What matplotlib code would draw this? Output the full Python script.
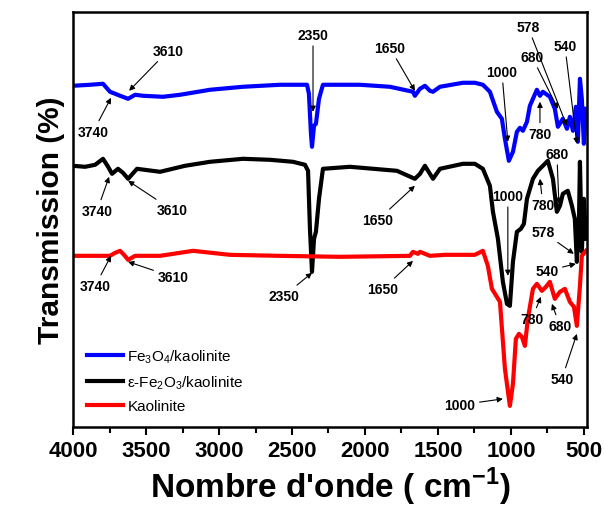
"""FTIR spectra of kaolinite and the two iron-oxide/kaolinite composites."""

import matplotlib

matplotlib.use("Agg")

import matplotlib.pyplot as plt

plt.rcParams["font.family"] = ["Liberation Sans", "DejaVu Sans"]
plt.rcParams["mathtext.fontset"] = "custom"
plt.rcParams["mathtext.rm"] = "Liberation Sans"
plt.rcParams["mathtext.bf"] = "Liberation Sans:bold"

# wavenumber (cm-1) and transmission (arb. units, offset stack)
wn_fe3o4 = [4000, 3884, 3795, 3747, 3712, 3678, 3623, 3575, 3521, 3384, 3267, 3062,
            2836, 2582, 2397, 2384, 2370, 2363, 2349, 2336, 2315, 2288, 2034, 1829,
            1671, 1658, 1623, 1589, 1555, 1534, 1486, 1329, 1247, 1192, 1144, 1096,
            1062, 1041, 1014, 986, 959, 938, 918, 890, 870, 822, 801, 781, 733, 699,
            678, 644, 616, 596, 575, 555, 541, 527, 514, 500, 486]
tr_fe3o4 = [341, 342, 343, 335, 333, 331, 328, 332, 331, 330, 332, 337,
            340, 342, 342, 333, 293, 280, 301, 303, 328, 342, 342, 340,
            335, 331, 338, 341, 336, 335, 340, 344, 344, 342, 335, 315,
            308, 288, 266, 275, 295, 299, 296, 305, 321, 337, 331, 335, 330, 318,
            300, 308, 298, 310, 296, 320, 285, 348, 328, 283, 318]

wn_fe2o3 = [4000, 3918, 3849, 3795, 3760, 3733, 3692, 3658, 3623, 3562, 3404, 3233,
            3062, 2836, 2651, 2493, 2411, 2390, 2377, 2363, 2349, 2336, 2315, 2288,
            2103, 1781, 1658, 1623, 1589, 1555, 1534, 1486, 1329, 1247, 1192, 1144,
            1123, 1089, 1055, 1027, 1007, 986, 959, 932, 911, 890, 849, 815, 781,
            747, 712, 685, 664, 644, 610, 582, 562, 548, 534, 527, 514, 500, 486]
tr_fe2o3 = [261, 260, 262, 268, 260, 253, 258, 254, 248, 258, 255, 261,
            265, 268, 267, 265, 262, 256, 198, 155, 188, 195, 228, 258,
            260, 256, 248, 253, 261, 253, 248, 258, 263, 263, 258, 241,
            215, 188, 145, 123, 121, 165, 195, 198, 203, 228, 248, 256, 261,
            266, 248, 215, 221, 233, 236, 221, 208, 165, 203, 265, 175, 228, 188]

wn_kaol = [4000, 3747, 3712, 3678, 3651, 3623, 3575, 3404, 3178, 2925, 2582, 2171,
           1692, 1671, 1637, 1623, 1555, 1452, 1247, 1192, 1158, 1130, 1096, 1075,
           1041, 1007, 986, 966, 945, 925, 904, 884, 849, 822, 788, 760, 733, 699,
           664, 630, 596, 568, 548, 527, 514, 486]
tr_kaol = [171, 171, 174, 176, 172, 167, 171, 171, 176, 172, 171, 170,
           171, 175, 173, 175, 171, 172, 172, 176, 161, 138, 130, 125,
           58, 21, 43, 88, 93, 90, 81, 108, 138, 143, 136, 140, 145, 128,
           135, 138, 125, 120, 101, 141, 171, 176]

# (label, text position, arrow tip) in data coordinates
peaks_fe3o4 = [
    ("3740", (3863, 295), (3740, 329)),
    ("3610", (3349, 376), (3616, 336)),
    ("2350", (2356, 392), (2356, 315)),
    ("1650", (1829, 379), (1658, 336)),
    ("1000", (1062, 355), (1021, 285)),
    ("780", (801, 293), (801, 325)),
    ("680", (856, 370), (678, 318)),
    ("578", (884, 400), (617, 301)),
    ("540", (630, 381), (548, 283)),
]
peaks_fe2o3 = [
    ("3740", (3836, 216), (3753, 250)),
    ("3610", (3322, 217), (3623, 246)),
    ("2350", (2555, 131), (2363, 154)),
    ("1650", (1911, 207), (1658, 241)),
    ("1000", (1021, 231), (1021, 151)),
    ("780", (781, 222), (801, 248)),
    ("680", (685, 273), (671, 223)),
    ("578", (781, 195), (569, 173)),
    ("540", (754, 156), (555, 163)),
]
peaks_kaol = [
    ("3740", (3849, 141), (3740, 171)),
    ("3610", (3315, 150), (3623, 165)),
    ("1650", (1877, 138), (1671, 166)),
    ("1000", (1349, 22), (1055, 28)),
    ("780", (856, 108), (795, 130)),
    ("680", (664, 101), (719, 123)),
    ("540", (651, 48), (548, 93)),
]

fig = plt.figure(figsize=(6.04, 5.10), dpi=100)
ax = fig.add_axes([0.121, 0.161, 0.851, 0.814])

ax.plot(wn_fe3o4, tr_fe3o4, color="#0000ff", lw=3, label="Fe$_3$O$_4$/kaolinite")
ax.plot(wn_fe2o3, tr_fe2o3, color="black", lw=3, label="ε-Fe$_2$O$_3$/kaolinite")
ax.plot(wn_kaol, tr_kaol, color="#ff0000", lw=3, label="Kaolinite")

for label, txt, tip in peaks_fe3o4 + peaks_fe2o3 + peaks_kaol:
    ax.annotate(label, xy=tip, xytext=txt, ha="center", va="center",
                fontsize=10, fontweight="bold",
                arrowprops=dict(arrowstyle="-|>", color="black", lw=0.8,
                                mutation_scale=8, shrinkA=1, shrinkB=0))

ax.set_xlim(4000, 478)
ax.set_ylim(0, 415)
ax.set_xticks([4000, 3500, 3000, 2500, 2000, 1500, 1000, 500])
ax.set_xticks([3750, 3250, 2750, 2250, 1750, 1250, 750], minor=True)
ax.set_yticks([])
ax.tick_params(axis="x", which="major", length=6, width=1.5, labelsize=16)
ax.tick_params(axis="x", which="minor", length=4, width=1.5)
for lab in ax.get_xticklabels():
    lab.set_fontweight("bold")
for sp in ax.spines.values():
    sp.set_linewidth(1.8)

ax.set_xlabel("Nombre d'onde ( cm$^{\\mathbf{-1}}$)", fontsize=24, fontweight="bold", labelpad=3)
ax.set_ylabel("Transmission (%)", fontsize=21.5, fontweight="bold", labelpad=6)

ax.legend(loc="lower left", bbox_to_anchor=(0.0, 0.0), frameon=False, fontsize=11,
          handlelength=2.35, labelspacing=0.55, handletextpad=0.3)

fig.savefig("out.png", dpi=100)
